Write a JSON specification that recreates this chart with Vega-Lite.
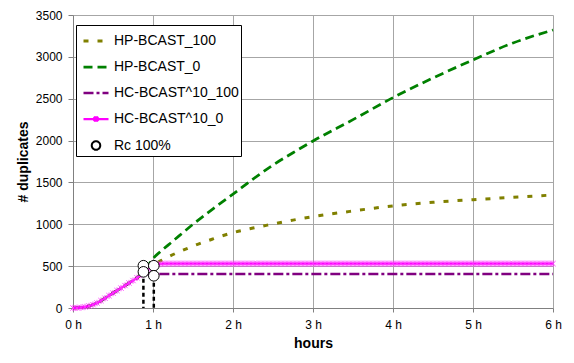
{
  "$schema": "https://vega.github.io/schema/vega-lite/v6.json",
  "width": 480,
  "height": 293,
  "autosize": {"type": "none"},
  "padding": {"left": 73, "top": 15, "right": 21, "bottom": 55},
  "background": "white",
  "config": {
    "font": "Liberation Sans",
    "view": {"stroke": null},
    "axis": {"labelFont": "Liberation Sans", "titleFont": "Liberation Sans", "labelColor": "#000000", "titleColor": "#000000", "domainColor": "#808080", "tickColor": "#808080", "labelFontSize": 12, "titleFontSize": 14, "titleFontWeight": "bold"}
  },
  "datasets": {
    "lines": [
      {"s": "HP-BCAST_100", "t": 0, "v": 0}, {"s": "HP-BCAST_100", "t": 0.1, "v": 6}, {"s": "HP-BCAST_100", "t": 0.2, "v": 24}, {"s": "HP-BCAST_100", "t": 0.3, "v": 60}, {"s": "HP-BCAST_100", "t": 0.4, "v": 117}, {"s": "HP-BCAST_100", "t": 0.5, "v": 178}, {"s": "HP-BCAST_100", "t": 0.6, "v": 238}, {"s": "HP-BCAST_100", "t": 0.7, "v": 298}, {"s": "HP-BCAST_100", "t": 0.8, "v": 360}, {"s": "HP-BCAST_100", "t": 0.9, "v": 440}, {"s": "HP-BCAST_100", "t": 1.0, "v": 515}, {"s": "HP-BCAST_100", "t": 1.1, "v": 565}, {"s": "HP-BCAST_100", "t": 1.2, "v": 615}, {"s": "HP-BCAST_100", "t": 1.3, "v": 660}, {"s": "HP-BCAST_100", "t": 1.4, "v": 700}, {"s": "HP-BCAST_100", "t": 1.5, "v": 740}, {"s": "HP-BCAST_100", "t": 1.75, "v": 825}, {"s": "HP-BCAST_100", "t": 2.0, "v": 900}, {"s": "HP-BCAST_100", "t": 2.25, "v": 955}, {"s": "HP-BCAST_100", "t": 2.5, "v": 1003}, {"s": "HP-BCAST_100", "t": 2.75, "v": 1050}, {"s": "HP-BCAST_100", "t": 3.0, "v": 1091}, {"s": "HP-BCAST_100", "t": 3.5, "v": 1159}, {"s": "HP-BCAST_100", "t": 4.0, "v": 1219}, {"s": "HP-BCAST_100", "t": 4.5, "v": 1263}, {"s": "HP-BCAST_100", "t": 5.0, "v": 1294}, {"s": "HP-BCAST_100", "t": 5.5, "v": 1322}, {"s": "HP-BCAST_100", "t": 6.0, "v": 1350},
      {"s": "HP-BCAST_0", "t": 0, "v": 0}, {"s": "HP-BCAST_0", "t": 0.1, "v": 6}, {"s": "HP-BCAST_0", "t": 0.2, "v": 24}, {"s": "HP-BCAST_0", "t": 0.3, "v": 60}, {"s": "HP-BCAST_0", "t": 0.4, "v": 117}, {"s": "HP-BCAST_0", "t": 0.5, "v": 178}, {"s": "HP-BCAST_0", "t": 0.6, "v": 238}, {"s": "HP-BCAST_0", "t": 0.7, "v": 298}, {"s": "HP-BCAST_0", "t": 0.8, "v": 362}, {"s": "HP-BCAST_0", "t": 0.9, "v": 455}, {"s": "HP-BCAST_0", "t": 1.0, "v": 590}, {"s": "HP-BCAST_0", "t": 1.1, "v": 680}, {"s": "HP-BCAST_0", "t": 1.25, "v": 800}, {"s": "HP-BCAST_0", "t": 1.5, "v": 1000}, {"s": "HP-BCAST_0", "t": 1.75, "v": 1185}, {"s": "HP-BCAST_0", "t": 2.0, "v": 1360}, {"s": "HP-BCAST_0", "t": 2.25, "v": 1540}, {"s": "HP-BCAST_0", "t": 2.5, "v": 1708}, {"s": "HP-BCAST_0", "t": 2.75, "v": 1855}, {"s": "HP-BCAST_0", "t": 3.0, "v": 1995}, {"s": "HP-BCAST_0", "t": 3.5, "v": 2250}, {"s": "HP-BCAST_0", "t": 4.0, "v": 2513}, {"s": "HP-BCAST_0", "t": 4.5, "v": 2748}, {"s": "HP-BCAST_0", "t": 5.0, "v": 2963}, {"s": "HP-BCAST_0", "t": 5.5, "v": 3166}, {"s": "HP-BCAST_0", "t": 6.0, "v": 3321},
      {"s": "HC-BCAST^10_100", "t": 0, "v": 0}, {"s": "HC-BCAST^10_100", "t": 0.1, "v": 6}, {"s": "HC-BCAST^10_100", "t": 0.2, "v": 24}, {"s": "HC-BCAST^10_100", "t": 0.3, "v": 60}, {"s": "HC-BCAST^10_100", "t": 0.4, "v": 117}, {"s": "HC-BCAST^10_100", "t": 0.5, "v": 178}, {"s": "HC-BCAST^10_100", "t": 0.6, "v": 238}, {"s": "HC-BCAST^10_100", "t": 0.7, "v": 298}, {"s": "HC-BCAST^10_100", "t": 0.8, "v": 355}, {"s": "HC-BCAST^10_100", "t": 0.85, "v": 385}, {"s": "HC-BCAST^10_100", "t": 0.9, "v": 400}, {"s": "HC-BCAST^10_100", "t": 0.95, "v": 405}, {"s": "HC-BCAST^10_100", "t": 6.0, "v": 405},
      {"s": "HC-BCAST^10_0", "t": 0, "v": 0}, {"s": "HC-BCAST^10_0", "t": 0.05, "v": 2}, {"s": "HC-BCAST^10_0", "t": 0.1, "v": 6}, {"s": "HC-BCAST^10_0", "t": 0.15, "v": 13}, {"s": "HC-BCAST^10_0", "t": 0.2, "v": 24}, {"s": "HC-BCAST^10_0", "t": 0.25, "v": 40}, {"s": "HC-BCAST^10_0", "t": 0.3, "v": 60}, {"s": "HC-BCAST^10_0", "t": 0.35, "v": 88}, {"s": "HC-BCAST^10_0", "t": 0.4, "v": 117}, {"s": "HC-BCAST^10_0", "t": 0.45, "v": 147}, {"s": "HC-BCAST^10_0", "t": 0.5, "v": 178}, {"s": "HC-BCAST^10_0", "t": 0.55, "v": 208}, {"s": "HC-BCAST^10_0", "t": 0.6, "v": 238}, {"s": "HC-BCAST^10_0", "t": 0.65, "v": 268}, {"s": "HC-BCAST^10_0", "t": 0.7, "v": 298}, {"s": "HC-BCAST^10_0", "t": 0.75, "v": 328}, {"s": "HC-BCAST^10_0", "t": 0.8, "v": 360}, {"s": "HC-BCAST^10_0", "t": 0.85, "v": 395}, {"s": "HC-BCAST^10_0", "t": 0.9, "v": 432}, {"s": "HC-BCAST^10_0", "t": 0.95, "v": 470}, {"s": "HC-BCAST^10_0", "t": 1.0, "v": 503}, {"s": "HC-BCAST^10_0", "t": 1.05, "v": 520}, {"s": "HC-BCAST^10_0", "t": 1.1, "v": 527}, {"s": "HC-BCAST^10_0", "t": 1.15, "v": 530},
      {"s": "HC-BCAST^10_0", "t": 1.2, "v": 530}, {"s": "HC-BCAST^10_0", "t": 1.25, "v": 530}, {"s": "HC-BCAST^10_0", "t": 1.3, "v": 530}, {"s": "HC-BCAST^10_0", "t": 1.35, "v": 530}, {"s": "HC-BCAST^10_0", "t": 1.4, "v": 530}, {"s": "HC-BCAST^10_0", "t": 1.45, "v": 530}, {"s": "HC-BCAST^10_0", "t": 1.5, "v": 530}, {"s": "HC-BCAST^10_0", "t": 1.55, "v": 530}, {"s": "HC-BCAST^10_0", "t": 1.6, "v": 530}, {"s": "HC-BCAST^10_0", "t": 1.65, "v": 530}, {"s": "HC-BCAST^10_0", "t": 1.7, "v": 530}, {"s": "HC-BCAST^10_0", "t": 1.75, "v": 530}, {"s": "HC-BCAST^10_0", "t": 1.8, "v": 530}, {"s": "HC-BCAST^10_0", "t": 1.85, "v": 530}, {"s": "HC-BCAST^10_0", "t": 1.9, "v": 530}, {"s": "HC-BCAST^10_0", "t": 1.95, "v": 530},
      {"s": "HC-BCAST^10_0", "t": 2.0, "v": 530}, {"s": "HC-BCAST^10_0", "t": 2.05, "v": 530}, {"s": "HC-BCAST^10_0", "t": 2.1, "v": 530}, {"s": "HC-BCAST^10_0", "t": 2.15, "v": 530}, {"s": "HC-BCAST^10_0", "t": 2.2, "v": 530}, {"s": "HC-BCAST^10_0", "t": 2.25, "v": 530}, {"s": "HC-BCAST^10_0", "t": 2.3, "v": 530}, {"s": "HC-BCAST^10_0", "t": 2.35, "v": 530}, {"s": "HC-BCAST^10_0", "t": 2.4, "v": 530}, {"s": "HC-BCAST^10_0", "t": 2.45, "v": 530}, {"s": "HC-BCAST^10_0", "t": 2.5, "v": 530}, {"s": "HC-BCAST^10_0", "t": 2.55, "v": 530}, {"s": "HC-BCAST^10_0", "t": 2.6, "v": 530}, {"s": "HC-BCAST^10_0", "t": 2.65, "v": 530}, {"s": "HC-BCAST^10_0", "t": 2.7, "v": 530}, {"s": "HC-BCAST^10_0", "t": 2.75, "v": 530}, {"s": "HC-BCAST^10_0", "t": 2.8, "v": 530}, {"s": "HC-BCAST^10_0", "t": 2.85, "v": 530}, {"s": "HC-BCAST^10_0", "t": 2.9, "v": 530}, {"s": "HC-BCAST^10_0", "t": 2.95, "v": 530},
      {"s": "HC-BCAST^10_0", "t": 3.0, "v": 530}, {"s": "HC-BCAST^10_0", "t": 3.05, "v": 530}, {"s": "HC-BCAST^10_0", "t": 3.1, "v": 530}, {"s": "HC-BCAST^10_0", "t": 3.15, "v": 530}, {"s": "HC-BCAST^10_0", "t": 3.2, "v": 530}, {"s": "HC-BCAST^10_0", "t": 3.25, "v": 530}, {"s": "HC-BCAST^10_0", "t": 3.3, "v": 530}, {"s": "HC-BCAST^10_0", "t": 3.35, "v": 530}, {"s": "HC-BCAST^10_0", "t": 3.4, "v": 530}, {"s": "HC-BCAST^10_0", "t": 3.45, "v": 530}, {"s": "HC-BCAST^10_0", "t": 3.5, "v": 530}, {"s": "HC-BCAST^10_0", "t": 3.55, "v": 530}, {"s": "HC-BCAST^10_0", "t": 3.6, "v": 530}, {"s": "HC-BCAST^10_0", "t": 3.65, "v": 530}, {"s": "HC-BCAST^10_0", "t": 3.7, "v": 530}, {"s": "HC-BCAST^10_0", "t": 3.75, "v": 530}, {"s": "HC-BCAST^10_0", "t": 3.8, "v": 530}, {"s": "HC-BCAST^10_0", "t": 3.85, "v": 530}, {"s": "HC-BCAST^10_0", "t": 3.9, "v": 530}, {"s": "HC-BCAST^10_0", "t": 3.95, "v": 530},
      {"s": "HC-BCAST^10_0", "t": 4.0, "v": 530}, {"s": "HC-BCAST^10_0", "t": 4.05, "v": 530}, {"s": "HC-BCAST^10_0", "t": 4.1, "v": 530}, {"s": "HC-BCAST^10_0", "t": 4.15, "v": 530}, {"s": "HC-BCAST^10_0", "t": 4.2, "v": 530}, {"s": "HC-BCAST^10_0", "t": 4.25, "v": 530}, {"s": "HC-BCAST^10_0", "t": 4.3, "v": 530}, {"s": "HC-BCAST^10_0", "t": 4.35, "v": 530}, {"s": "HC-BCAST^10_0", "t": 4.4, "v": 530}, {"s": "HC-BCAST^10_0", "t": 4.45, "v": 530}, {"s": "HC-BCAST^10_0", "t": 4.5, "v": 530}, {"s": "HC-BCAST^10_0", "t": 4.55, "v": 530}, {"s": "HC-BCAST^10_0", "t": 4.6, "v": 530}, {"s": "HC-BCAST^10_0", "t": 4.65, "v": 530}, {"s": "HC-BCAST^10_0", "t": 4.7, "v": 530}, {"s": "HC-BCAST^10_0", "t": 4.75, "v": 530}, {"s": "HC-BCAST^10_0", "t": 4.8, "v": 530}, {"s": "HC-BCAST^10_0", "t": 4.85, "v": 530}, {"s": "HC-BCAST^10_0", "t": 4.9, "v": 530}, {"s": "HC-BCAST^10_0", "t": 4.95, "v": 530},
      {"s": "HC-BCAST^10_0", "t": 5.0, "v": 530}, {"s": "HC-BCAST^10_0", "t": 5.05, "v": 530}, {"s": "HC-BCAST^10_0", "t": 5.1, "v": 530}, {"s": "HC-BCAST^10_0", "t": 5.15, "v": 530}, {"s": "HC-BCAST^10_0", "t": 5.2, "v": 530}, {"s": "HC-BCAST^10_0", "t": 5.25, "v": 530}, {"s": "HC-BCAST^10_0", "t": 5.3, "v": 530}, {"s": "HC-BCAST^10_0", "t": 5.35, "v": 530}, {"s": "HC-BCAST^10_0", "t": 5.4, "v": 530}, {"s": "HC-BCAST^10_0", "t": 5.45, "v": 530}, {"s": "HC-BCAST^10_0", "t": 5.5, "v": 530}, {"s": "HC-BCAST^10_0", "t": 5.55, "v": 530}, {"s": "HC-BCAST^10_0", "t": 5.6, "v": 530}, {"s": "HC-BCAST^10_0", "t": 5.65, "v": 530}, {"s": "HC-BCAST^10_0", "t": 5.7, "v": 530}, {"s": "HC-BCAST^10_0", "t": 5.75, "v": 530}, {"s": "HC-BCAST^10_0", "t": 5.8, "v": 530}, {"s": "HC-BCAST^10_0", "t": 5.85, "v": 530}, {"s": "HC-BCAST^10_0", "t": 5.9, "v": 530}, {"s": "HC-BCAST^10_0", "t": 5.95, "v": 530}, {"s": "HC-BCAST^10_0", "t": 6.0, "v": 530}
    ],
    "rc": [
      {"t": 0.88, "v": 505}, {"t": 1.01, "v": 505}, {"t": 0.88, "v": 432}, {"t": 1.01, "v": 385}
    ]
  },
  "layer": [
    {
      "data": {"name": "lines"},
      "mark": {"type": "line", "interpolate": "monotone"},
      "encoding": {
        "x": {"field": "t", "type": "quantitative", "scale": {"domain": [0, 6], "nice": false}, "axis": {
          "title": "hours", "values": [0, 0.5, 1, 1.5, 2, 2.5, 3, 3.5, 4, 4.5, 5, 5.5, 6],
          "labelExpr": "datum.value % 1 === 0 ? datum.value + ' h' : ''",
          "grid": true,
          "gridColor": {"condition": {"test": "datum.value % 1 === 0", "value": "#a6a6a6"}, "value": "#d9d9d9"},
          "tickColor": {"condition": {"test": "datum.value % 1 === 0", "value": "#808080"}, "value": "transparent"},
          "tickSize": 4, "labelPadding": 7, "titlePadding": 6, "labelFlush": false
        }},
        "y": {"field": "v", "type": "quantitative", "scale": {"domain": [0, 3500], "nice": false}, "axis": {
          "title": "# duplicates", "values": [0, 500, 1000, 1500, 2000, 2500, 3000, 3500], "format": "d",
          "grid": true, "gridColor": "#a6a6a6", "tickSize": 5, "labelPadding": 6, "titlePadding": 5
        }},
        "color": {"field": "s", "type": "nominal",
          "scale": {"domain": ["HP-BCAST_100", "HP-BCAST_0", "HC-BCAST^10_100", "HC-BCAST^10_0", "Rc 100%"], "range": ["#808000", "#008000", "#800080", "#ff00ff", "#000000"]},
          "legend": {
            "title": null, "orient": "none", "legendX": 3, "legendY": 10,
            "fillColor": "white", "strokeColor": "#000000", "padding": 2,
            "symbolSize": 625, "symbolOffset": 4, "labelFontSize": 14, "labelFont": "Liberation Sans", "labelColor": "#000000",
            "labelOffset": 4, "rowPadding": 5,
            "encode": {"symbols": {"update": {
              "shape": [
                {"test": "datum.value === 'HC-BCAST^10_0'", "value": "M-1,0L1,0M-0.18,-0.18L0.18,0.18M-0.18,0.18L0.18,-0.18M0,-0.22L0,0.22"},
                {"test": "datum.value === 'Rc 100%'", "value": "M0.34,0A0.34,0.34 0 1,1 -0.34,0A0.34,0.34 0 1,1 0.34,0Z"},
                {"value": "stroke"}
              ],
              "strokeWidth": [
                {"test": "datum.value === 'HP-BCAST_100'", "value": 3},
                {"test": "datum.value === 'HP-BCAST_0'", "value": 2},
                {"test": "datum.value === 'HC-BCAST^10_100'", "value": 2.5},
                {"value": 1}
              ],
              "fill": [
                {"test": "datum.value === 'Rc 100%'", "value": "white"},
                {"value": "transparent"}
              ]
            }}}
          }
        },
        "strokeDash": {"field": "s", "type": "nominal",
          "scale": {"domain": ["HP-BCAST_100", "HP-BCAST_0", "HC-BCAST^10_100", "HC-BCAST^10_0", "Rc 100%"], "range": [[5, 9], [9, 5], [10, 3, 3, 3], [1, 0], [1, 0]]}
        },
        "strokeWidth": {"field": "s", "type": "nominal",
          "scale": {"domain": ["HP-BCAST_100", "HP-BCAST_0", "HC-BCAST^10_100", "HC-BCAST^10_0", "Rc 100%"], "range": [3, 2, 2.5, 1, 1]},
          "legend": null
        }
      }
    },
    {
      "data": {"name": "lines"},
      "transform": [{"filter": "datum.s === 'HC-BCAST^10_0'"}],
      "mark": {"type": "point", "shape": "M-1,-1L1,1M-1,1L1,-1M0,-1.2L0,1.2", "size": 28, "filled": false, "color": "#ff33ff", "strokeWidth": 0.9, "opacity": 1},
      "encoding": {
        "x": {"field": "t", "type": "quantitative"},
        "y": {"field": "v", "type": "quantitative"}
      }
    },
    {
      "data": {"name": "rc"},
      "transform": [{"filter": "datum.v < 500"}],
      "mark": {"type": "rule", "color": "#000000", "strokeWidth": 2.5, "strokeDash": [4, 3]},
      "encoding": {
        "x": {"field": "t", "type": "quantitative"},
        "y": {"field": "v", "type": "quantitative"},
        "y2": {"datum": 0}
      }
    },
    {
      "data": {"name": "rc"},
      "mark": {"type": "point", "shape": "circle", "size": 113, "filled": true, "fill": "white", "stroke": "#000000", "strokeWidth": 1, "opacity": 1},
      "encoding": {
        "x": {"field": "t", "type": "quantitative"},
        "y": {"field": "v", "type": "quantitative"}
      }
    }
  ]
}
